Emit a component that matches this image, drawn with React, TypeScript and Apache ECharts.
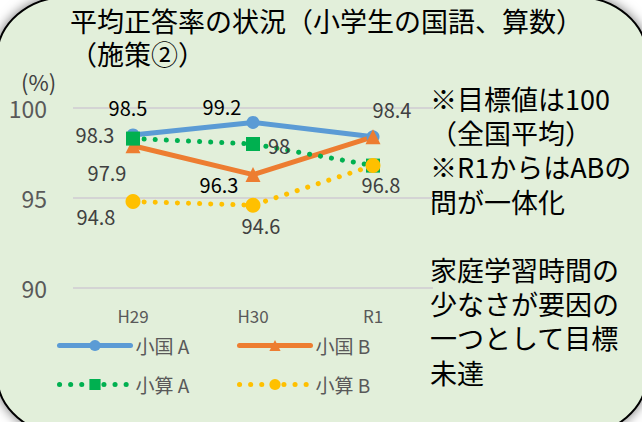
import React, { useEffect, useRef } from "react";
import * as echarts from "echarts";

const categories = ["H29", "H30", "R1"];
const seriesNames = ["小国 A", "小国 B", "小算 A", "小算 B"];
const kokugoA = [98.5, 99.2, 98.4];
const kokugoB = [97.9, 96.3, 98.4];
const sansuA = [98.3, 98, 96.8];
const sansuB = [94.8, 94.6, 96.8];
const yMin = 90;
const yMax = 100;
const yStep = 5;
const titleLine1 = "平均正答率の状況（小学生の国語、算数）";
const titleLine2 = "（施策②）";
const unitText = "(%)";
const noteLines = [
  "※目標値は100",
  "（全国平均）",
  "※R1からはABの",
  "問が一体化",
  "",
  "家庭学習時間の",
  "少なさが要因の",
  "一つとして目標",
  "未達",
];

// label styling per point: [dx, dy, color] or null (no label)
const labelStyleA: (null | [number, number, string])[] = [
  [-5, -28, "#000000"],
  [-31, -16, "#000000"],
  [19, -27, "#404040"],
];
const labelStyleB: (null | [number, number, string])[] = [
  [-26, 27, "#404040"],
  [-34, 10, "#000000"],
  null,
];
const labelStyleSA: (null | [number, number, string])[] = [
  [-38, -4, "#404040"],
  [26, 1, "#404040"],
  [8, 19, "#404040"],
];
const labelStyleSB: (null | [number, number, string])[] = [
  [-37, 15, "#404040"],
  [8, 20, "#404040"],
  null,
];

const FONT = '"Noto Sans CJK JP", "Noto Sans", sans-serif';

const cardPath =
  "M 67 -3 L 577 -3 C 615.7 -3 647 23.9 647 57 L 647 375 C 647 408.1 615.7 435 577 435 L 67 435 C 28.3 435 -3 408.1 -3 375 L -3 57 C -3 23.9 28.3 -3 67 -3 Z";

let registered = false;
function ensureShape() {
  if (registered) return;
  echarts.graphic.registerShape("card", echarts.graphic.extendPath(cardPath, {}) as any);
  registered = true;
}

function buildData(vals: number[], styles: (null | [number, number, string])[]) {
  return vals.map((v, i) => {
    const s = styles[i];
    if (!s) return { value: v, label: { show: false } };
    return {
      value: v,
      label: {
        show: true,
        position: "inside",
        offset: [s[0], s[1]],
        color: s[2],
        fontSize: 20,
        fontFamily: FONT,
        formatter: "{c}",
      },
    };
  });
}

export default function App() {
  const ref = useRef<HTMLDivElement>(null);
  useEffect(() => {
    if (!ref.current) return;
    ensureShape();
    const chart = echarts.init(ref.current, undefined, { renderer: "svg" });
    const legendCommon = {
      itemWidth: 71,
      itemHeight: 14,
      itemGap: 0,
      padding: 0,
      textStyle: { fontSize: 19, color: "#595959", fontFamily: FONT },
    };
    const dotted = [0.1, 11];
    const noteElements = noteLines
      .map((t, i) => ({ t, i }))
      .filter((o) => o.t.length > 0)
      .map((o) => ({
        type: "text",
        x: 430,
        y: 98.5 + 34.2 * o.i,
        style: {
          text: o.t,
          fontSize: 27,
          fill: "#000000",
          fontFamily: FONT,
          verticalAlign: "middle",
        },
      }));
    chart.setOption({
      animation: false,
      backgroundColor: "#ffffff",
      title: {
        text: titleLine1,
        subtext: titleLine2,
        left: 70,
        top: 7,
        padding: 0,
        itemGap: 6,
        textStyle: {
          fontSize: 27,
          fontWeight: "normal",
          color: "#000000",
          fontFamily: FONT,
        },
        subtextStyle: {
          fontSize: 27,
          color: "#000000",
          fontFamily: FONT,
        },
      },
      graphic: {
        elements: [
          {
            type: "card",
            x: 0,
            y: 0,
            z: -100,
            silent: true,
            style: {
              fill: "#e2efda",
              stroke: "#000000",
              lineWidth: 2,
              shadowBlur: 12,
              shadowColor: "rgba(0,0,0,0.55)",
            },
          },
          {
            type: "text",
            x: 21,
            y: 81,
            style: {
              text: unitText,
              fontSize: 22,
              fill: "#404040",
              fontFamily: FONT,
              verticalAlign: "middle",
            },
          },
          ...noteElements,
        ],
      },
      legend: [
        { ...legendCommon, data: [seriesNames[0]], left: 57, top: 336, lineStyle: { width: 5, cap: "round" } },
        { ...legendCommon, data: [seriesNames[1]], left: 237, top: 336, lineStyle: { width: 5, cap: "round" } },
        { ...legendCommon, data: [seriesNames[2]], left: 57, top: 375, lineStyle: { width: 5, cap: "round", type: dotted } },
        { ...legendCommon, data: [seriesNames[3]], left: 237, top: 375, lineStyle: { width: 5, cap: "round", type: dotted } },
      ],
      grid: { left: 73, right: 209, top: 108, bottom: 134 },
      xAxis: {
        type: "category",
        data: categories,
        boundaryGap: true,
        axisLine: { show: false },
        axisTick: { show: false },
        axisLabel: { color: "#595959", fontSize: 17, margin: 19, fontFamily: FONT },
      },
      yAxis: {
        type: "value",
        min: yMin,
        max: yMax,
        interval: yStep,
        axisLine: { show: false },
        axisTick: { show: false },
        axisLabel: { color: "#595959", fontSize: 23, margin: 26, fontFamily: FONT },
        splitLine: { lineStyle: { color: "#d4d4d4", width: 2 } },
      },
      series: [
        {
          name: seriesNames[0],
          type: "line",
          data: buildData(kokugoA, labelStyleA),
          symbol: "circle",
          symbolSize: 13,
          itemStyle: { color: "#5b9bd5" },
          lineStyle: { color: "#5b9bd5", width: 5, cap: "round" },
        },
        {
          name: seriesNames[1],
          type: "line",
          data: buildData(kokugoB, labelStyleB),
          symbol: "triangle",
          symbolSize: 15,
          itemStyle: { color: "#ed7d31" },
          lineStyle: { color: "#ed7d31", width: 5, cap: "round" },
        },
        {
          name: seriesNames[2],
          type: "line",
          data: buildData(sansuA, labelStyleSA),
          symbol: "rect",
          symbolSize: 14,
          itemStyle: { color: "#00b050" },
          lineStyle: { color: "#00b050", width: 5, type: dotted, cap: "round" },
        },
        {
          name: seriesNames[3],
          type: "line",
          data: buildData(sansuB, labelStyleSB),
          symbol: "circle",
          symbolSize: 15,
          itemStyle: { color: "#ffc000" },
          lineStyle: { color: "#ffc000", width: 5, type: dotted, cap: "round" },
        },
      ],
    });
    return () => chart.dispose();
  }, []);
  return (
    <div
      ref={ref}
      style={{ position: "fixed", left: 0, top: 0, width: 642, height: 422 }}
    />
  );
}
